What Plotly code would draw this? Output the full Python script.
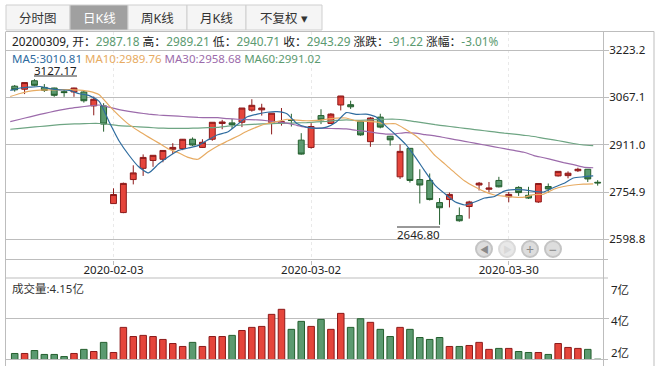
import plotly.graph_objects as go
from plotly.subplots import make_subplots

opens = [3104,3094,3122,3100,3098,3086,3085,3085,3039,3039,
         2716.7,2687,2796,2833,2859,2863,2896,2898,2929,2902,
         2929,2981,2983,2985,3025,3026,2984,2982,2993,2926,
         2902,3007,2981,3042,3043,2987.18,2921,3002,2939,2805,
         2899,2796,2793,2720,2730,2677,2707,2778,2764,2793,
         2739,2770,2744,2722,2773,2808,2809,2825,2830,2787]
highs = [3108,3116,3127.17,3111,3099,3092,3099,3090,3070,3048,
         2767,2786,2843,2879,2876,2892,2916,2927,2935,2929,
         2985,2993,2996,3032,3061,3046,3015,3032,3013,2949,
         2982,3028,3015,3072,3056,2989.21,3002,3013,2940,2912,
         2899,2830,2816,2735,2753,2704,2726,2788,2788,2805,
         2755,2774,2772,2783,2783,2823,2823,2835,2830,2794]
lows = [3086,3078,3104,3085,3069,3069,3069,3050,3008,2954,
        2716,2685,2780,2808,2838,2853,2880,2893,2907,2900,
        2924,2962,2963,2969,3020,3007,2945,2974,2971,2878,
        2898,2979,2981,3024,3029,2940.71,2904,2965,2908,2798,
        2786,2717,2727,2646.8,2704,2657,2667,2760,2754,2770,
        2721,2742,2732,2719,2753,2806,2800,2821,2788,2776]
closes = [3092,3116,3107,3090,3074,3083,3098,3056,3061,2979,
          2746.6,2783.3,2818,2869,2876,2892,2902,2929,2910,2919,
          2985,2986,2977,3032,3041,3032,3015,2987,2991,2880,
          2971,2993,3012,3071.7,3036,2943.29,2999,2969,2927,2889,
          2793,2778,2730,2703,2747,2660,2722,2784,2768,2772,
          2747,2753,2735,2783,2765,2823,2817,2830,2798,2785]
ma5 = [3090,3098,3101,3103,3096,3092,3090,3079,3073,3054,
       2987,2924,2877,2838,2818,2847,2871,2892,2900,2908,
       2927,2944,2953,2978,3003,3012,3018,3020,3013,2981,
       2969,2965,2969,2986,3017,3010.81,3012,3003,2973,2944,
       2913,2870,2822,2777,2749,2723,2712,2722,2735,2740,
       2758,2763,2762,2757,2755,2770,2783,2801,2805,2808]
ma10 = [3070,3080,3088,3091,3092,3092,3093,3091,3087,3076,
        3040,3007,2978,2956,2936,2917,2897,2885,2869,2863,
        2887,2907,2923,2939,2956,2970,2981,2987,2995,2992,
        2990,2991,2995,2999,2999,2989.76,2988,2986,2980,2980,
        2962,2941,2912,2875,2847,2818,2791,2772,2756,2745,
        2741,2738,2738,2746,2748,2764,2773,2778,2781,2782]
ma30 = [2987,2995,3003,3011,3018,3025,3031,3035,3039,3042,
        3035,3027,3021,3016,3012,3009,3007,3005,3003,3001,
        3000,3000,2997,2995,2994,2993,2990,2986,2982,2975,
        2968,2966,2965,2964,2963,2958.68,2955,2950,2946,2947,
        2951,2949,2944,2940,2934,2928,2922,2916,2910,2904,
        2898,2892,2886,2875,2868,2860,2852,2845,2837,2835]
ma60 = [2962,2965,2968,2971,2974,2977,2979,2980,2981,2981,
        2978,2974,2972,2970,2968,2966,2965,2965,2965,2966,
        2967,2968,2972,2975,2977,2979,2980,2981,2982,2983,
        2984,2986,2988,2991,2993,2991.02,2992,2994,2995,2995,
        2992,2987,2982,2977,2973,2969,2965,2961,2957,2953,
        2949,2946,2942,2938,2932,2927,2921,2915,2910,2908]
volumes = [2.02,2.02,2.20,1.96,1.96,1.83,2.02,2.27,2.14,2.70,
           2.08,3.62,3.06,3.13,3.06,2.88,2.63,2.45,2.70,2.45,
           3.06,3.06,3.13,3.43,3.62,3.68,4.42,4.73,3.50,3.99,
           3.68,4.11,3.50,4.48,3.62,4.15,3.93,3.50,3.06,3.62,
           3.50,3.00,2.88,3.00,2.45,2.45,2.51,2.70,2.27,2.33,
           2.33,2.14,2.08,2.08,1.96,2.63,2.39,2.33,2.27,1.67]
tick_idx = [10, 30, 50]
tick_dates = ["2020-02-03", "2020-03-02", "2020-03-30"]
price_ticks = [3223.2, 3067.1, 2911.0, 2754.9, 2598.8]
tabs = ["分时图", "日K线", "周K线", "月K线", "不复权 ▾"]

RED, RED_D = "#e5453b", "#8c1a1a"
GRN, GRN_D = "#5b9a70", "#245f2e"
GRID = "#bdbdbd"
FONT = "Noto Sans, Noto Sans CJK SC, sans-serif"
W, H = 662, 366
idx = list(range(len(closes)))
line_x = [i - 0.45 for i in idx]

px = lambda v: v / W
py = lambda v: 1 - v / H

fig = make_subplots(rows=2, cols=1, shared_xaxes=False)
fig.add_trace(go.Candlestick(
    x=idx, open=opens, high=highs, low=lows, close=closes,
    increasing=dict(fillcolor=RED, line=dict(color=RED_D, width=1)),
    decreasing=dict(fillcolor=GRN, line=dict(color=GRN_D, width=1)),
    whiskerwidth=0, showlegend=False), row=1, col=1)
for vals, col in [(ma60, "#6ea583"), (ma30, "#9c6bab"), (ma10, "#e7ab62"), (ma5, "#2f6c9f")]:
    fig.add_trace(go.Scatter(x=line_x, y=vals, mode="lines", showlegend=False,
                             line=dict(color=col, width=1.2, shape="spline", smoothing=0.5)),
                  row=1, col=1)
up = [c >= o for o, c in zip(opens, closes)]
fig.add_trace(go.Bar(x=idx, y=volumes, width=0.66, showlegend=False,
                     marker=dict(color=[RED if u else GRN for u in up],
                                 line=dict(color=[RED_D if u else GRN_D for u in up], width=1))),
              row=2, col=1)

xr = [-0.88, 59.54]
fig.update_xaxes(range=xr, domain=[px(6), px(603)], zeroline=False, showline=False)
fig.update_xaxes(row=1, col=1, rangeslider_visible=False, tickmode="array",
                 tickvals=tick_idx, ticktext=tick_dates, ticks="outside", ticklen=4,
                 tickcolor=GRID, showgrid=True, gridcolor="#e9e9e9", griddash="3px,3px", gridwidth=1,
                 ticklabelstandoff=-4,
                 tickfont=dict(size=11.5, color="#222", family=FONT))
fig.update_xaxes(row=2, col=1, showticklabels=False, showgrid=False, ticks="")
fig.update_yaxes(row=1, col=1, domain=[py(259.5), py(31.5)], range=[2532.2, 3284.5], side="right",
                 tickmode="array", tickvals=price_ticks,
                 ticktext=["3223.2", "3067.1", "2911.0", "2754.9", "2598.8"],
                 ticks="outside", ticklen=5, tickcolor=GRID, gridcolor=GRID, gridwidth=1,
                 ticklabelstandoff=-2,
                 tickfont=dict(size=11.5, color="#222", family=FONT), zeroline=False, showline=False)
fig.update_yaxes(row=2, col=1, domain=[py(359.5), py(278)], range=[1.65, 6.65], side="right",
                 tickmode="array", tickvals=[4.15], ticktext=[""], ticks="outside", ticklen=5,
                 tickcolor=GRID, gridcolor=GRID, gridwidth=1, zeroline=False, showline=False)

shapes = []
def hline(x0, x1, y, color=GRID):
    shapes.append(dict(type="line", xref="paper", yref="paper", x0=px(x0), x1=px(x1), y0=py(y), y1=py(y),
                       line=dict(color=color, width=1)))
def vline(x, y0, y1, color=GRID):
    shapes.append(dict(type="line", xref="paper", yref="paper", x0=px(x), x1=px(x), y0=py(y0), y1=py(y1),
                       line=dict(color=color, width=1)))
hline(6, 654, 31.5)
hline(6, 608, 259.5)
hline(6, 608, 278)
hline(6, 608, 359.5)
vline(5.5, 31.5, 366)
vline(603.5, 31.5, 366)
vline(654, 31.5, 366)
hline(34, 77, 76, "#333")
hline(397, 440, 227, "#333")

annotations = []
def text(x, y, s, size=11.5, color="#222", anchor="left"):
    annotations.append(dict(xref="paper", yref="paper", x=px(x), y=py(y), text=s, showarrow=False,
                            xanchor=anchor, yanchor="middle",
                            font=dict(size=size, color=color, family=FONT)))

tab_edges = [6, 70, 128, 187, 246, 322]
for i, label in enumerate(tabs):
    active = i == 1
    shapes.append(dict(type="rect", xref="paper", yref="paper", x0=px(tab_edges[i]), x1=px(tab_edges[i + 1]),
                       y0=py(30), y1=py(5), line=dict(color="#cfcfcf", width=1),
                       fillcolor="#a0a0a0" if active else "#f5f5f5", layer="below"))
    text((tab_edges[i] + tab_edges[i + 1]) / 2, 18, label, size=12.5,
         color="#ffffff" if active else "#333", anchor="center")

G = "#5b9a70"
def sp(c, s):
    return f'<span style="color:{c}">{s}</span>'
text(10, 41, "20200309, 开：" + sp(G, "2987.18") + " 高：" + sp(G, "2989.21") + " 低：" + sp(G, "2940.71")
     + " 收：" + sp(G, "2943.29") + " 涨跌：" + sp(G, "-91.22") + " 涨幅：" + sp(G, "-3.01%"), size=11.8)
text(10, 58.5, sp("#2f6c9f", "MA5:3010.81") + " " + sp("#e7ab62", "MA10:2989.76") + " "
     + sp("#9c6bab", "MA30:2958.68") + " " + sp(G, "MA60:2991.02"), size=11.5)
text(55.5, 70, "3127.17", anchor="center")
text(418.5, 234, "2646.80", anchor="center")
text(10, 288, "成交量:4.15亿", size=11.5, color="#333")
text(609, 289, "7亿")
text(609, 320, "4亿")
text(609, 352, "2亿")

for cx, glyph, fade in [(484, "◀", False), (507, "▶", True), (530, "+", False), (553, "−", False)]:
    shapes.append(dict(type="circle", xref="paper", yref="paper", x0=px(cx - 8), x1=px(cx + 8),
                       y0=py(249 + 8), y1=py(249 - 8), fillcolor="#e8e8e8" if fade else "#dddddd",
                       line=dict(color="#dadada" if fade else "#c4c4c4", width=2)))
    text(cx, 249, glyph, size=9 if glyph in "◀▶" else 14, color="#d8d8d8" if fade else "#8a8a8a", anchor="center")

fig.update_layout(width=W, height=H, autosize=False, margin=dict(l=0, r=0, t=0, b=0),
                  paper_bgcolor="white", plot_bgcolor="white", boxgap=0.15, bargap=0.3,
                  shapes=shapes, annotations=annotations, showlegend=False,
                  font=dict(family=FONT))
fig.write_html("out.html", config={"displayModeBar": False},
               post_script="document.body.style.margin='0';")
